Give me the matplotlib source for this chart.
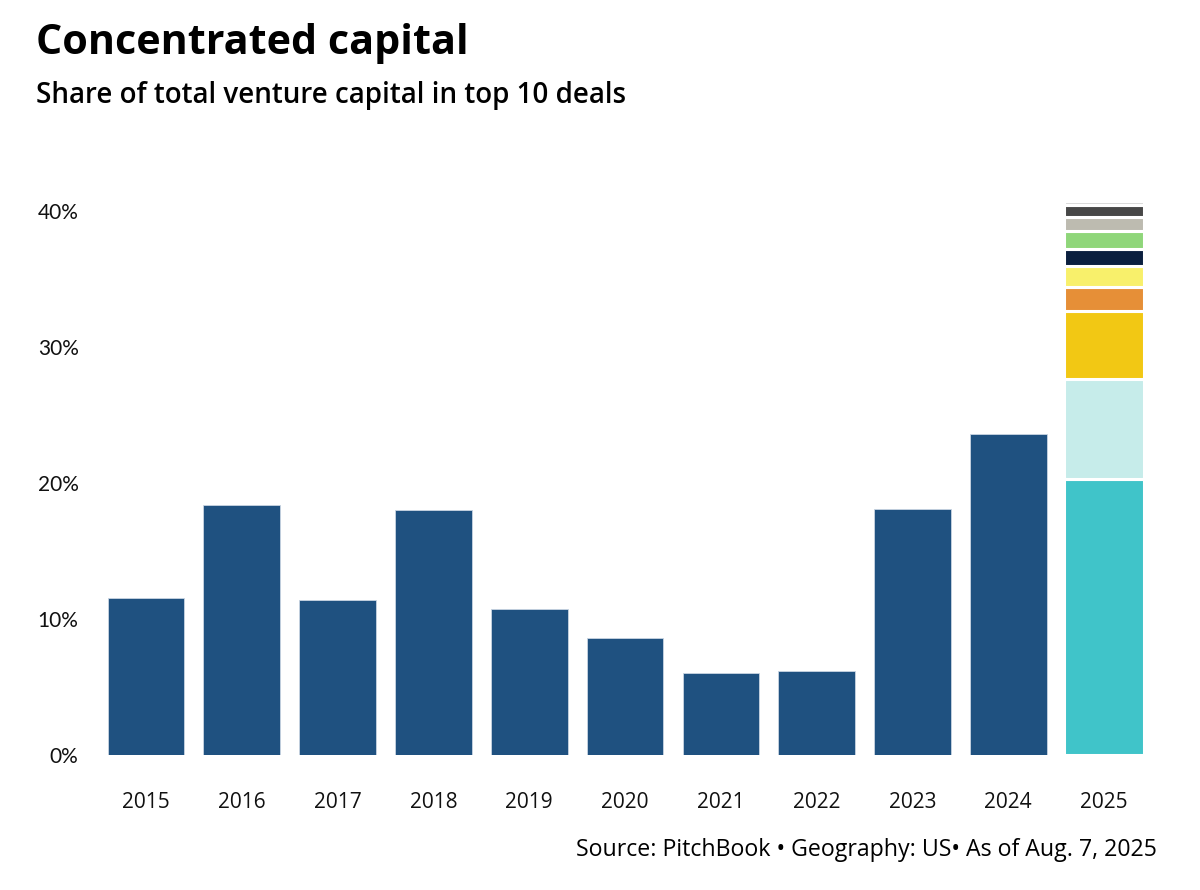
import matplotlib
matplotlib.use('Agg')
import matplotlib.pyplot as plt
import numpy as np

# data
years = ['2015', '2016', '2017', '2018', '2019', '2020', '2021', '2022', '2023', '2024']
shares = [11.5, 18.4, 11.4, 18.0, 10.7, 8.6, 6.0, 6.2, 18.1, 23.6]

# 2025: one segment per top-10 deal
deals_2025 = [20.3, 7.3, 5.0, 1.8, 1.5, 1.3, 1.3, 1.0, 0.9, 0.3]
deal_colors = ['#40c4c9', '#c6ecea', '#f2c814', '#e68f37', '#f8f06b',
               '#0b1f3f', '#8fd67a', '#bdbbb0', '#474747', '#d9d9d9']

yticks = [0, 10, 20, 30, 40]
ytick_labels = ['0%', '10%', '20%', '30%', '40%']

BLUE = '#1f5180'

fig = plt.figure(figsize=(12, 8.9), dpi=100)
ax = fig.add_axes([0.0817, 0.1517, 0.8783, 0.627])

x = np.arange(len(years))
ax.bar(x, shares, width=0.8, color=BLUE, edgecolor='#c9d5e2', linewidth=0.6)

# white edges eat into the bar, so widen it a touch to keep the same footprint
bottom = 0
for v, c in zip(deals_2025, deal_colors):
    ax.bar(len(years), v, bottom=bottom, width=0.83, color=c,
           edgecolor='white', linewidth=2.2)
    bottom += v

all_labels = years + ['2025']
ax.set_xticks(np.arange(len(all_labels)))
ax.set_xticklabels(all_labels, fontsize=15, family='Open Sans', color='#111111')
ax.set_yticks(yticks)
ax.set_yticklabels(ytick_labels, fontsize=15, family='Lato', color='#111111')
ax.set_xlim(-0.5, len(all_labels) - 0.5)
ax.set_ylim(0, 41)
ax.tick_params(axis='both', length=0)
ax.tick_params(axis='x', pad=27)
ax.tick_params(axis='y', pad=14)
for s in ax.spines.values():
    s.set_visible(False)

fig.text(0.030, 0.951, 'Concentrated capital', fontsize=29.7, fontweight='bold',
         family='Open Sans', va='center', ha='left', color='black')
fig.text(0.030, 0.893, 'Share of total venture capital in top 10 deals', fontsize=20,
         fontweight='semibold', family='Open Sans', va='center', ha='left', color='black')
fig.text(0.964, 0.0445, 'Source: PitchBook \u2022 Geography: US\u2022 As of Aug. 7, 2025',
         fontsize=16.7, family='Open Sans', va='center', ha='right', color='black')

fig.savefig('out.png', dpi=100)
